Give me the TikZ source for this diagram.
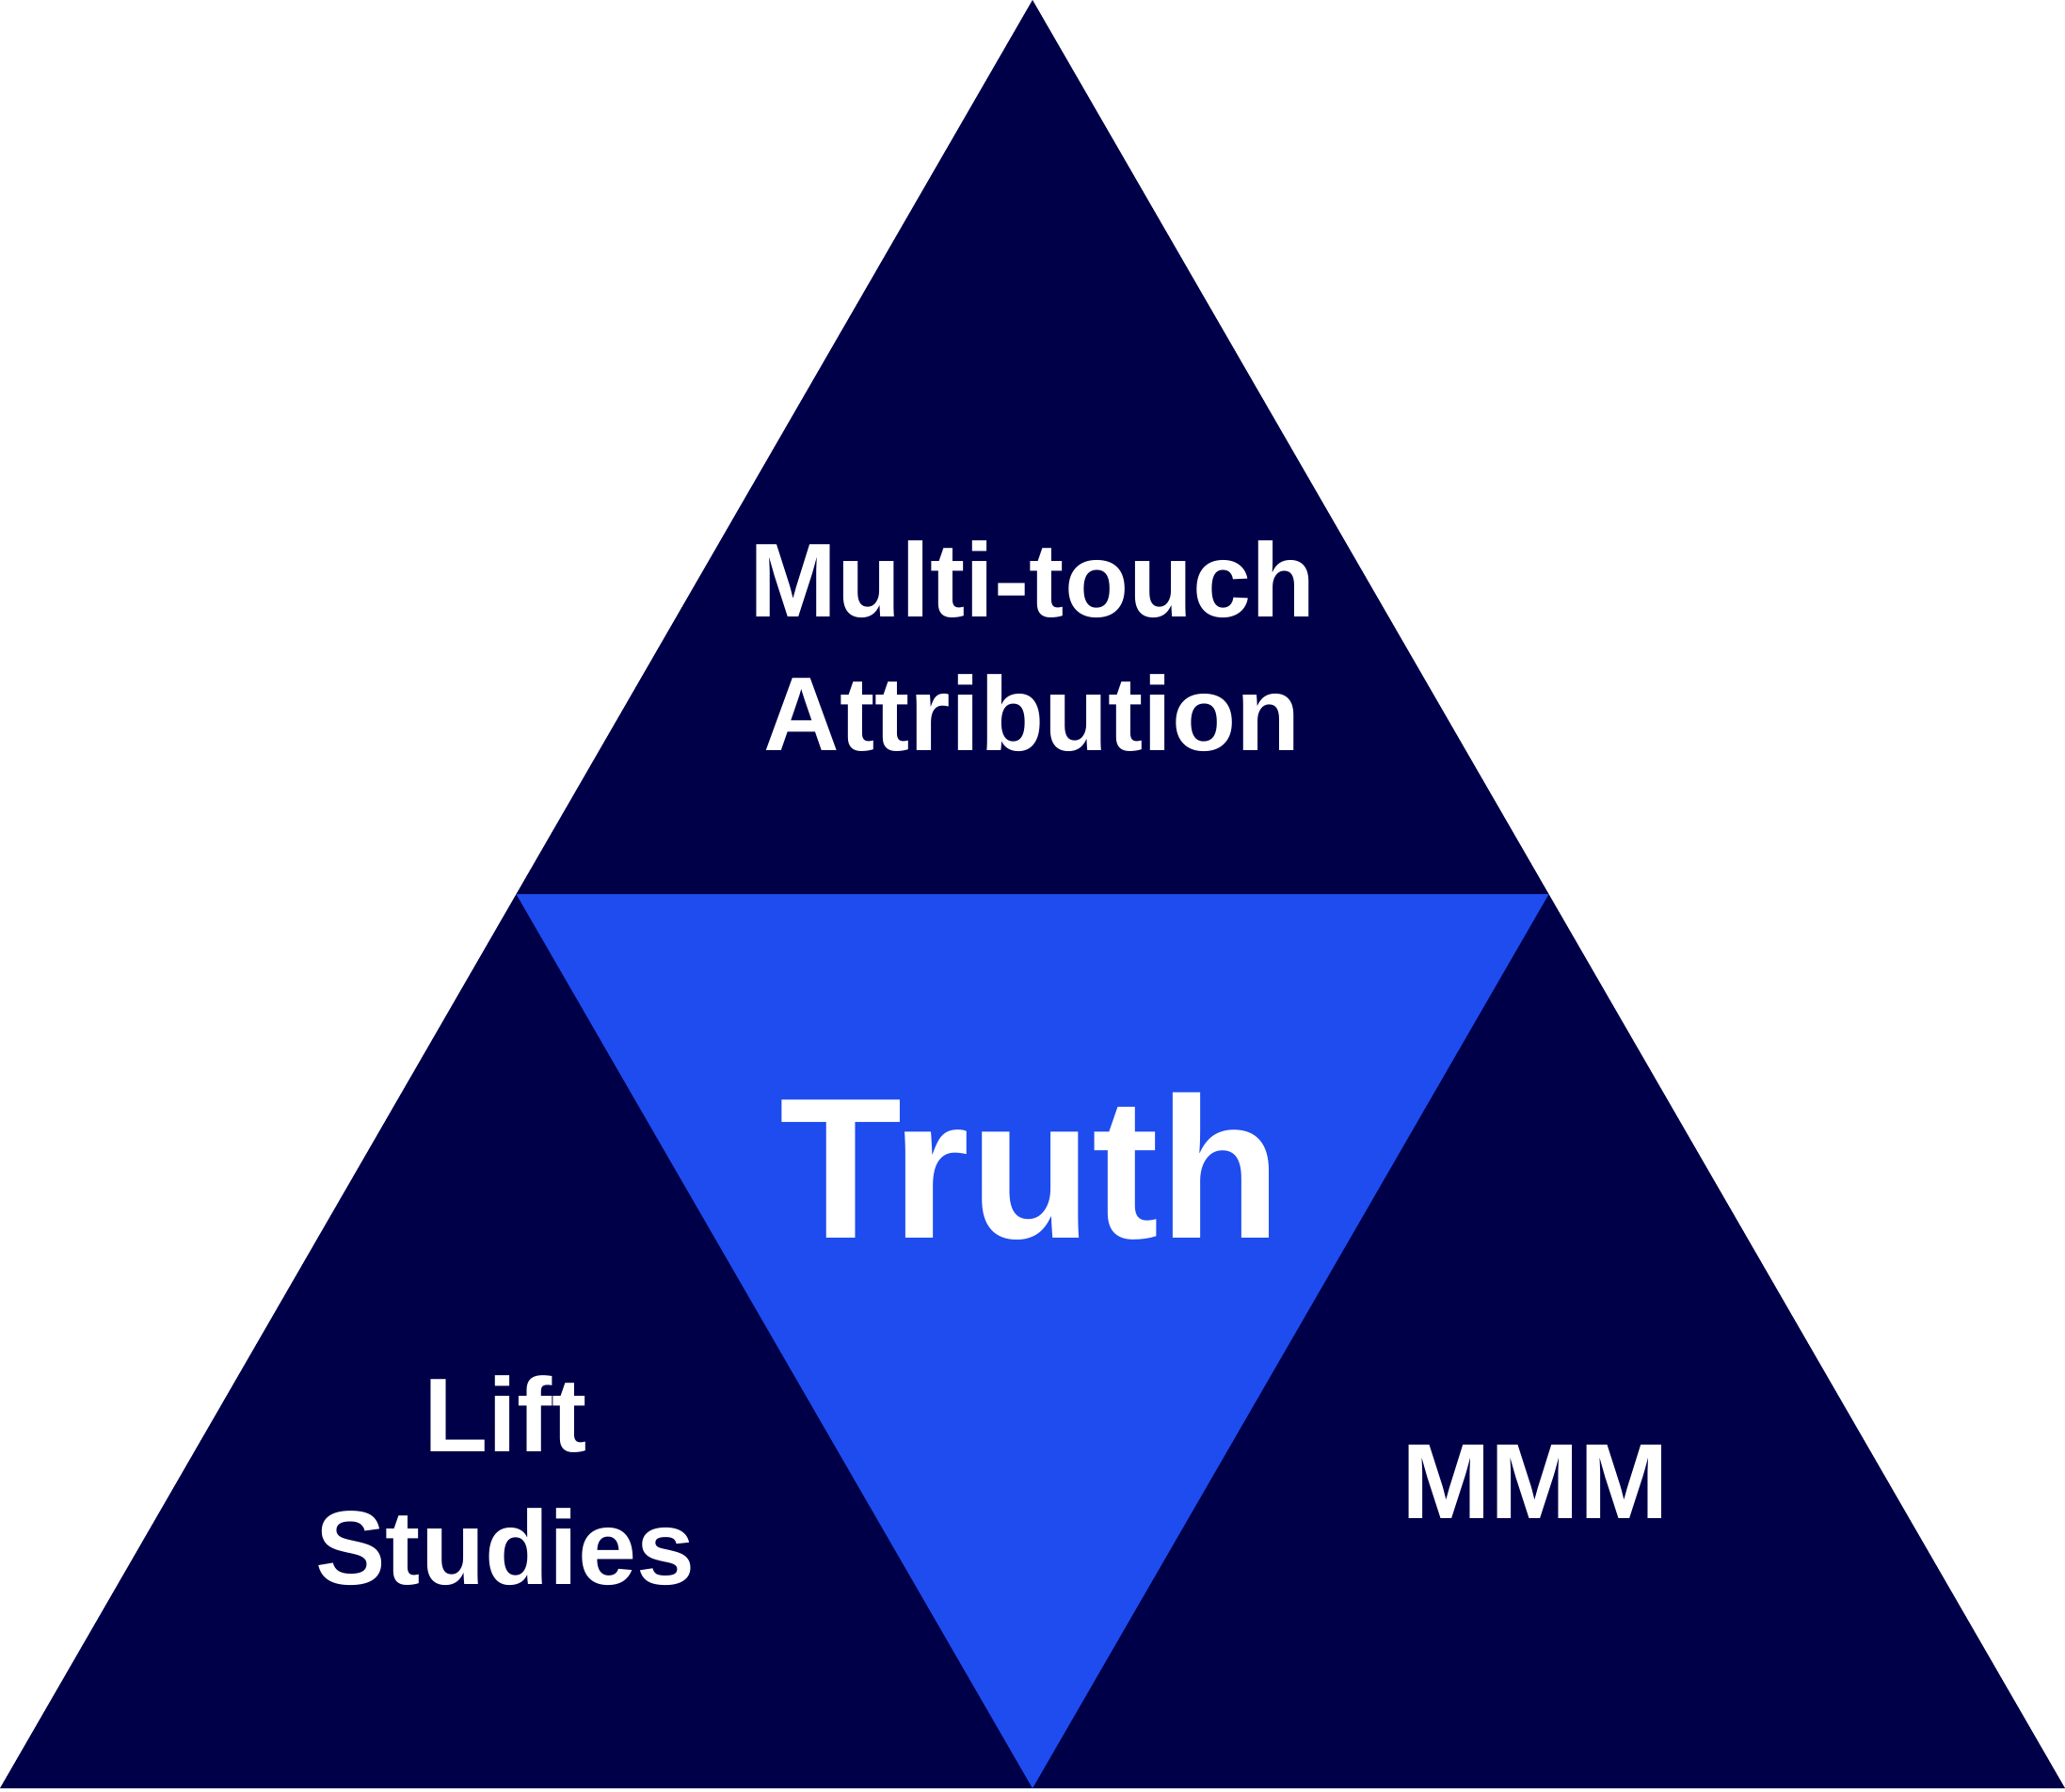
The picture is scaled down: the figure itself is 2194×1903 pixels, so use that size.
\documentclass[tikz,border=0pt]{standalone}
\usepackage{fontspec}
\setmainfont{Liberation Sans}
\definecolor{navy}{RGB}{0,0,72}
\definecolor{truthblue}{RGB}{30,76,238}
\begin{document}
\begin{tikzpicture}[x=1bp,y=-1bp,
  lbl/.style={text=white,font=\bfseries,anchor=base,align=center,inner sep=0pt}]
\useasboundingbox (0,0) rectangle (2194,1903);
\coordinate (apex) at (1097,0);
\coordinate (bl) at (0,1900);
\coordinate (br) at (2194,1900);
\coordinate (ml) at (548.5,950);
\coordinate (mr) at (1645.5,950);
\coordinate (mb) at (1097,1900);
\fill[navy] (apex) -- (bl) -- (br) -- cycle;
\fill[truthblue] (ml) -- (mr) -- (mb) -- cycle;
\node[lbl,font=\bfseries\fontsize{112}{142}\selectfont] (mta) at (1097,797) {Multi-touch\\Attribution};
\node[lbl,font=\bfseries\fontsize{112}{141}\selectfont] (lift) at (537,1683) {Lift\\Studies};
\node[lbl,font=\bfseries\fontsize{114}{134}\selectfont] (mmm) at (1631,1613) {MMM};
\node[lbl,font=\bfseries\fontsize{214}{250}\selectfont] (truth) at (1095,1315) {Truth};
\end{tikzpicture}
\end{document}
